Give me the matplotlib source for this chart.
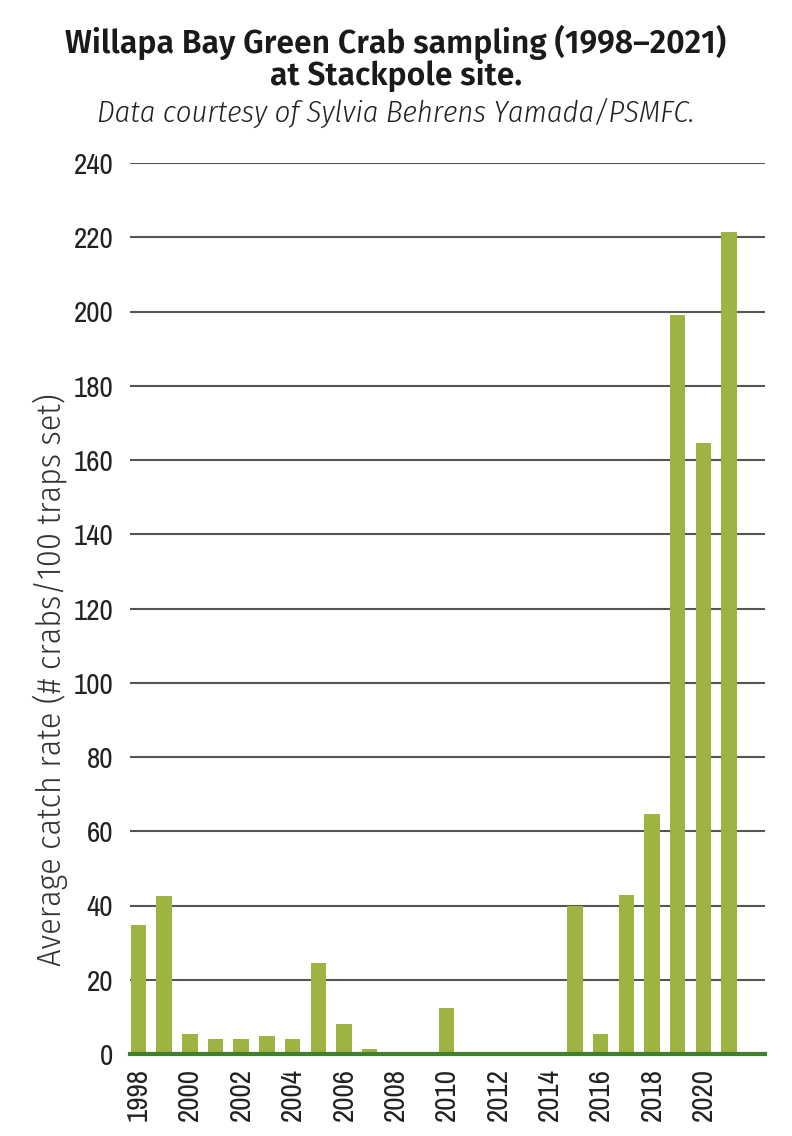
import matplotlib
matplotlib.use("Agg")
import matplotlib.pyplot as plt

years = list(range(1998, 2022))
catch_rate = [34.7, 42.5, 5.5, 4.0, 4.0, 4.8, 4.0, 24.4, 8.1, 1.3, 0, 0,
              12.5, 0, 0, 0, 0, 40.0, 5.5, 42.7, 64.6, 199, 164.5, 221.5]
y_ticks = list(range(0, 241, 20))
x_ticks = list(range(1998, 2021, 2))

tick_font = ['Archivo Narrow', 'DejaVu Sans']
label_font = ['Fira Sans Condensed', 'DejaVu Sans']
title_font = ['Fira Sans', 'DejaVu Sans']

fig = plt.figure(figsize=(7.92, 11.36), dpi=100)
ax = fig.add_axes([130/792, 82/1136, 635/792, 891/1136])

ax.bar(years, catch_rate, width=0.6, color='#9db443', zorder=2)
ax.axhline(0, color='#3f7f2f', lw=3, zorder=3, clip_on=False)

ax.set_xlim(1997.67, 2022.4)
ax.set_ylim(0, 240)
ax.set_yticks(y_ticks)
ax.set_xticks(x_ticks)
ax.set_yticklabels([str(v) for v in y_ticks], family=tick_font, fontsize=21, color='#222222')
ax.set_xticklabels([str(v) for v in x_ticks], family=tick_font, fontsize=21, color='#222222', rotation=90)
ax.tick_params(axis='both', length=0)
ax.tick_params(axis='y', pad=12)
ax.tick_params(axis='x', pad=10)
ax.yaxis.grid(True, color='#555555', lw=1.5, zorder=0)
ax.set_axisbelow(True)
for s in ax.spines.values():
    s.set_visible(False)

fig.text(50/792, 1-680/1136, 'Average catch rate (# crabs/100 traps set)', rotation=90,
         ha='center', va='center', family=label_font, fontweight=300, fontsize=24.5, color='#333333')

fig.text(0.5, 1-42/1136, 'Willapa Bay Green Crab sampling (1998\u20132021)', ha='center', va='center',
         family=title_font, fontsize=23, fontweight=600, color='#1a1a1a')
fig.text(0.5, 1-75/1136, 'at Stackpole site.', ha='center', va='center',
         family=title_font, fontsize=23, fontweight=600, color='#1a1a1a')
fig.text(0.5, 1-113/1136, 'Data courtesy of Sylvia Behrens Yamada/PSMFC.', ha='center', va='center',
         family=label_font, fontsize=22, fontweight=300, style='italic', color='#222222')

fig.savefig('out.png', dpi=100)
